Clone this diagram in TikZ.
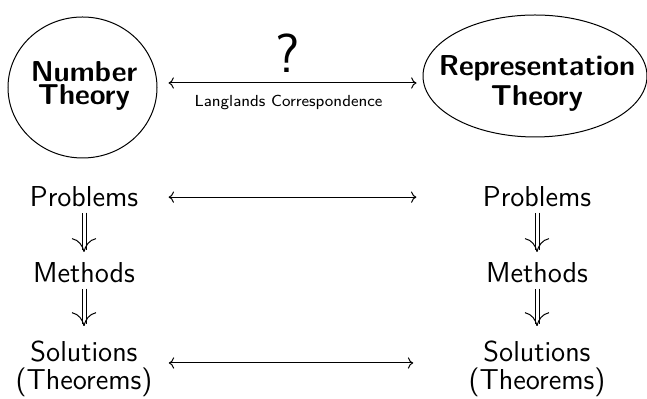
\documentclass[tikz,border=0pt]{standalone}
\usetikzlibrary{shapes.geometric,arrows.meta}
\begin{document}
\begin{tikzpicture}[x=0.5pt,y=-0.5pt,
  font=\sffamily,
  shapebox/.style={draw,ellipse,line width=0.5pt,inner sep=0pt},
  bigtxt/.style={font=\sffamily\bfseries\fontsize{14.4}{11.5}\selectfont,align=center,inner sep=0pt},
  rowtxt/.style={font=\sffamily\fontsize{14.4}{14}\selectfont,align=center,inner sep=2.5pt},
  hlink/.style={<->,line width=0.5pt},
  barb/.style={line width=0.5pt},
  dshaft/.style={double,double distance=1.5pt,line width=0.5pt}]
\useasboundingbox (0,0) rectangle (647,399);
% top shapes
\node[shapebox,minimum width=74.5pt,minimum height=70.5pt] (nt) at (82.5,87.5) {};
\node[shapebox,minimum width=112pt,minimum height=61pt] (rt) at (535,76) {};
\node[bigtxt] (ntl) at (84,86.3) {Number\\Theory};
\node[bigtxt,font=\sffamily\bfseries\fontsize{14.4}{14.8}\selectfont] (rtl) at (537,83.5) {Representation\\Theory};
\draw[hlink] ([shift={(11,-4.5)}]nt.east) -- ([shift={(-6,7)}]rt.west)
  node[midway,above=5pt,xshift=-2.25pt,font=\sffamily\fontsize{27.5}{29}\selectfont,inner sep=0pt] (q) {?}
  node[midway,below=6pt,xshift=-2pt,font=\sffamily\fontsize{8}{9}\selectfont,inner sep=0pt] (lc) {Langlands Correspondence};
% rows
\node[rowtxt,anchor=base] (pl) at (84,207) {Problems};
\node[rowtxt,anchor=base] (ml) at (84,283) {Methods};
\node[rowtxt] (sl) at (84,369) {Solutions\\(Theorems)};
\node[rowtxt,anchor=base] (pr) at (537,207) {Problems};
\node[rowtxt,anchor=base] (mr) at (537,283) {Methods};
\node[rowtxt] (sr) at (537,369) {Solutions\\(Theorems)};
\draw[hlink] ([xshift=12.5pt]pl.east) -- ([xshift=-30.5pt]pr.west);
\draw[hlink] ([shift={(5.5pt,3pt)}]sl.east) -- ([shift={(-25pt,3pt)}]sr.west);
% double arrows
\foreach \a/\b/\s in {pl/ml/3pt, ml/sl/5pt, pr/mr/3pt, mr/sr/5pt}{
  \draw[dshaft,shorten >=\s+0.8pt] (\a.south) -- (\b.north);
  \draw[barb] ([yshift=\s]\b.north) .. controls +(-1.5,-6) and +(7,1.5) .. +(-12,-13);
  \draw[barb] ([yshift=\s]\b.north) .. controls +(1.5,-6) and +(-7,1.5) .. +(12,-13);
}
\end{tikzpicture}
\end{document}
